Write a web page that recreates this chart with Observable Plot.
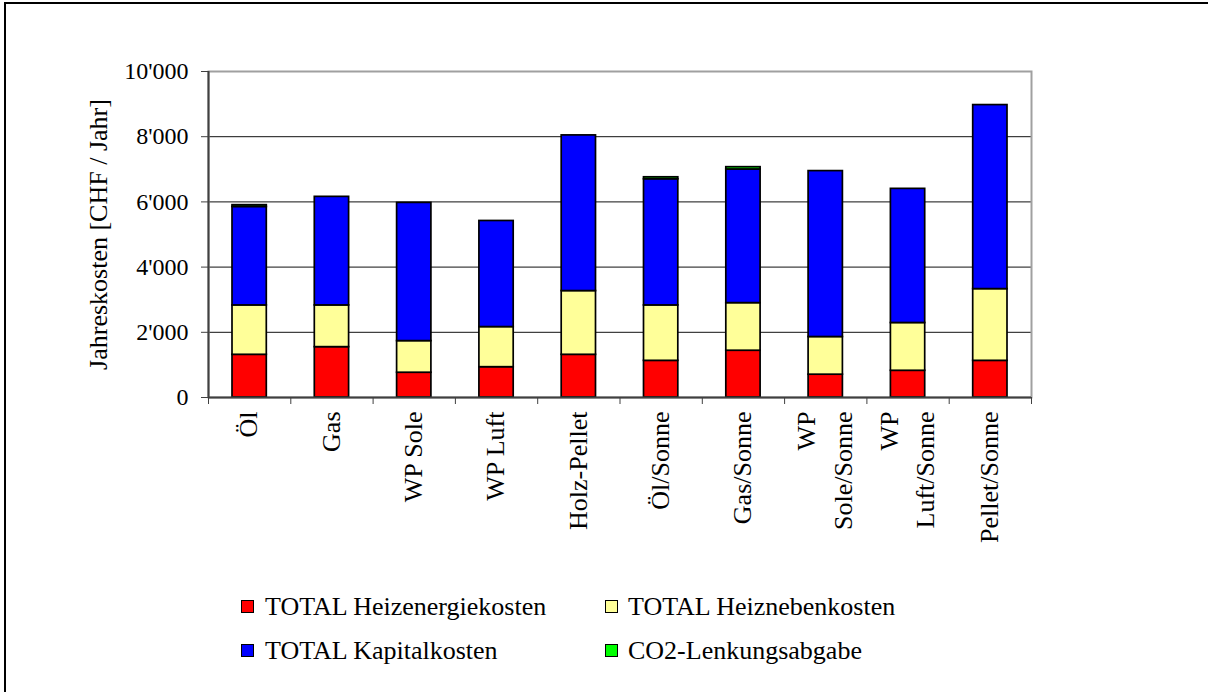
<!DOCTYPE html>
<html><head><meta charset="utf-8">
<script src="https://cdn.jsdelivr.net/npm/d3@7"></script>
<script src="https://cdn.jsdelivr.net/npm/@observablehq/plot@0.6"></script>
<style>
html,body{margin:0;padding:0;background:#fff;}
#wrap{position:relative;width:1208px;height:692px;overflow:hidden;background:#fff;font-family:"Liberation Serif","Times New Roman",Times,"DejaVu Serif","Noto Serif",serif;}
#wrap svg, #wrap svg text{font-family:"Liberation Serif","Times New Roman",Times,"DejaVu Serif","Noto Serif",serif !important;}
#border{position:absolute;left:4px;top:2px;width:1300px;height:800px;border-top:2px solid #000;border-left:2px solid #000;}
.leg{position:absolute;font-size:26px;line-height:26px;white-space:nowrap;color:#000;font-family:"Liberation Serif","Times New Roman",Times,"DejaVu Serif","Noto Serif",serif;}
.sw{position:absolute;width:11px;height:11px;border:1.5px solid #000;}
</style></head><body><div id="wrap"></div>
<script>
const categories = ["Öl","Gas","WP Sole","WP Luft","Holz-Pellet","Öl/Sonne","Gas/Sonne","WP\nSole/Sonne","WP\nLuft/Sonne","Pellet/Sonne"];
const heizenergie = [1310,1545,760,930,1310,1125,1435,700,820,1125];
const heizneben   = [1515,1280,970,1230,1955,1700,1460,1155,1465,2200];
const kapital     = [3020,3330,4240,3255,4775,3870,4100,5090,4115,5645];
const co2         = [55,0,0,0,0,60,70,0,0,0];
const seriesNames = ["TOTAL Heizenergiekosten","TOTAL Heiznebenkosten","TOTAL Kapitalkosten","CO2-Lenkungsabgabe"];
const seriesColors = ["#ff0000","#ffff99","#0000ff","#00ff00"];
const yTicks = [0,2000,4000,6000,8000,10000];
const yLabel = "Jahreskosten [CHF / Jahr]";

const seriesValues = [heizenergie, heizneben, kapital, co2];
const rows = [];
categories.forEach((c,i)=>{
  let acc = 0;
  seriesValues.forEach((vals,s)=>{
    const v = vals[i];
    if (v > 0) rows.push({i, cat:c, series:seriesNames[s], y1:acc, y2:acc+v});
    acc += v;
  });
});

const fmt = d => d3.format(",")(d).replace(/,/g,"'");
const serif = "Liberation Serif, Times New Roman, Times, DejaVu Serif, serif";

const chart = Plot.plot({
  width:1208, height:580,
  marginLeft:208, marginRight:177, marginTop:71, marginBottom:183,
  style:{fontFamily:serif, fontSize:"24px", background:"transparent", color:"#000", overflow:"visible"},
  x:{type:"linear", domain:[0,categories.length]},
  y:{domain:[0,10000]},
  color:{domain:seriesNames, range:seriesColors},
  marks:[
    Plot.ruleY(yTicks.slice(1,-1), {stroke:"#111", strokeWidth:1}),
    Plot.frame({stroke:"#a0a0a0", strokeWidth:2}),
    Plot.rect(rows, {x1:d=>d.i, x2:d=>d.i+1, y1:"y1", y2:"y2", fill:"series", stroke:"#000", strokeWidth:1.7, insetLeft:24, insetRight:24}),
    Plot.ruleX([0], {stroke:"#404040", strokeWidth:2}),
    Plot.ruleY([0], {stroke:"#404040", strokeWidth:2}),
    Plot.axisY({ticks:yTicks, tickSize:7, tickPadding:13, tickFormat:fmt, stroke:"#404040", fill:"#000", fontSize:24, fontFamily:serif, label:null}),
    Plot.axisX({ticks:d3.range(categories.length+1), tickSize:7, tickFormat:()=>"", stroke:"#404040", label:null}),
    Plot.text(categories, {x:(d,i)=>i+0.5, frameAnchor:"bottom", rotate:-90, textAnchor:"end", lineAnchor:"middle", lineHeight:1.4, dx:-4, dy:14, fontSize:26, fontFamily:serif, fill:"#000"}),
    Plot.text([yLabel], {frameAnchor:"left", dx:-110, rotate:-90, textAnchor:"middle", lineAnchor:"middle", fontSize:26, fontFamily:serif, fill:"#000"})
  ]
});

const wrap = document.getElementById("wrap");
wrap.appendChild(chart);

const legPos = [[241,265,0],[605,628,0],[241,265,44],[605,628,44]];
seriesNames.forEach((name,s)=>{
  const [sx,tx,dy] = legPos[s];
  const sw = document.createElement("div");
  sw.className = "sw";
  sw.style.left = sx + "px";
  sw.style.top = (600 + dy) + "px";
  sw.style.background = seriesColors[s];
  wrap.appendChild(sw);
  const t = document.createElement("div");
  t.className = "leg";
  t.style.left = tx + "px";
  t.style.top = (594 + dy) + "px";
  t.textContent = name;
  wrap.appendChild(t);
});

const border = document.createElement("div");
border.id = "border";
wrap.appendChild(border);
</script>
</body></html>
